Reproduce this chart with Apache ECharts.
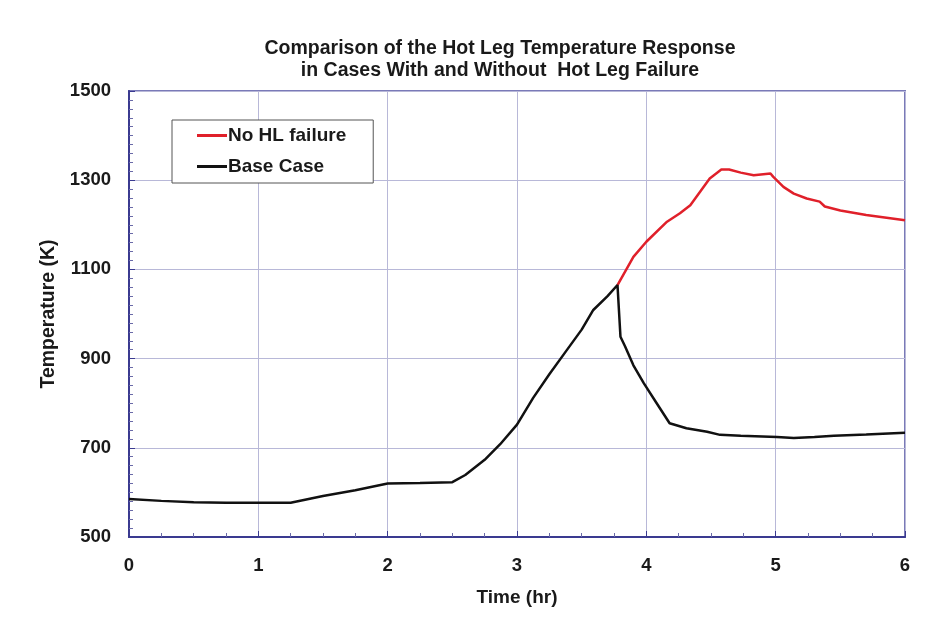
<!DOCTYPE html>
<html>
<head>
<meta charset="utf-8">
<script src="https://cdn.jsdelivr.net/npm/echarts@6/dist/echarts.min.js"></script>
<style>html,body{margin:0;padding:0;background:#fff}#c{width:928px;height:631px}</style>
</head>
<body>
<div id="c"></div>
<script>
const baseTime = [0, 0.25, 0.5, 0.75, 1, 1.25, 1.5, 1.75, 2, 2.25, 2.5, 2.6, 2.75, 2.87, 3.0, 3.125, 3.25, 3.385, 3.5, 3.59, 3.7, 3.777, 3.80, 3.836, 3.9, 3.98, 4.08, 4.18, 4.31, 4.47, 4.57, 4.73, 5.01, 5.14, 5.3, 5.45, 5.7, 6.0];
const baseTemp = [585, 581, 578, 577, 577, 577, 592, 605, 620, 621, 623, 639, 673, 708, 752, 812, 865, 919, 965, 1009, 1040, 1065, 949, 927, 885, 845, 800, 755, 744, 736, 729, 727, 724, 722, 724, 727, 730, 734];
const failTime = [3.777, 3.90, 4.0, 4.16, 4.26, 4.34, 4.49, 4.58, 4.64, 4.73, 4.83, 4.96, 4.98, 5.06, 5.14, 5.24, 5.34, 5.38, 5.50, 5.70, 6.0];
const failTemp = [1065, 1128, 1162, 1207, 1226, 1244, 1304, 1324, 1324, 1317, 1311, 1315, 1308, 1285, 1270, 1259, 1252, 1241, 1232, 1222, 1210];
const xTicks = [0, 1, 2, 3, 4, 5, 6];
const yTicks = [500, 700, 900, 1100, 1300, 1500];

const chart = echarts.init(document.getElementById('c'));
const font = 'Liberation Sans, Arial, sans-serif';
chart.setOption({
  backgroundColor: '#fff',
  animation: false,
  title: {
    text: 'Comparison of the Hot Leg Temperature Response\nin Cases With and Without  Hot Leg Failure',
    left: 495, top: 33, textAlign: 'center',
    textStyle: {fontFamily: font, fontSize: 19.5, fontWeight: 'bold', color: '#1a1a1a', lineHeight: 22}
  },
  legend: {
    orient: 'vertical', left: 172, top: 120,
    padding: [6, 27, 7, 25],
    itemGap: 12,
    itemWidth: 30, itemHeight: 3,
    icon: 'rect',
    borderColor: '#555', borderWidth: 1,
    backgroundColor: '#fff',
    textStyle: {fontFamily: font, fontSize: 19, fontWeight: 'bold', color: '#1a1a1a', padding: [0, 0, 0, -4]},
    data: ['No HL failure', 'Base Case']
  },
  grid: {left: 129, right: 23, top: 91, bottom: 94, show: true, borderColor: '#7a7ab8', borderWidth: 2},
  xAxis: {
    type: 'value', min: 0, max: 6, interval: 1,
    name: 'Time (hr)', nameLocation: 'middle', nameGap: 51,
    nameTextStyle: {fontFamily: font, fontSize: 19, fontWeight: 'bold', color: '#1a1a1a'},
    axisLine: {lineStyle: {color: '#3a3a90', width: 2}},
    axisTick: {inside: true, length: 6, lineStyle: {color: '#3a3a90'}},
    minorTick: {show: true, splitNumber: 4, length: 4, lineStyle: {color: '#6a6aa8'}},
    axisLabel: {fontFamily: font, fontSize: 18.5, fontWeight: 'bold', color: '#1a1a1a', margin: 19,
      formatter: v => xTicks.includes(v) ? String(v) : ''},
    splitLine: {show: true, lineStyle: {color: '#b8b8d8', width: 1}}
  },
  yAxis: {
    type: 'value', min: 500, max: 1500, interval: 200,
    name: 'Temperature (K)', nameLocation: 'middle', nameGap: 68, nameRotate: 90,
    nameTextStyle: {fontFamily: font, fontSize: 19.5, fontWeight: 'bold', color: '#1a1a1a'},
    axisLine: {show: true, lineStyle: {color: '#3a3a90', width: 2}},
    axisTick: {show: true, inside: true, length: 6, lineStyle: {color: '#3a3a90'}},
    minorTick: {show: true, splitNumber: 10, length: 4, lineStyle: {color: '#6a6aa8'}},
    axisLabel: {fontFamily: font, fontSize: 18.5, fontWeight: 'bold', color: '#1a1a1a', margin: 18,
      formatter: v => yTicks.includes(v) ? String(v) : ''},
    splitLine: {show: true, lineStyle: {color: '#b8b8d8', width: 1}}
  },
  series: [
    {
      name: 'No HL failure', type: 'line', symbol: 'none', z: 3,
      lineStyle: {color: '#e0202a', width: 2.5},
      itemStyle: {color: '#e0202a'},
      data: failTime.map((t, i) => [t, failTemp[i]])
    },
    {
      name: 'Base Case', type: 'line', symbol: 'none', z: 4,
      lineStyle: {color: '#111', width: 2.5},
      itemStyle: {color: '#111'},
      data: baseTime.map((t, i) => [t, baseTemp[i]])
    }
  ]
});
</script>
</body>
</html>
